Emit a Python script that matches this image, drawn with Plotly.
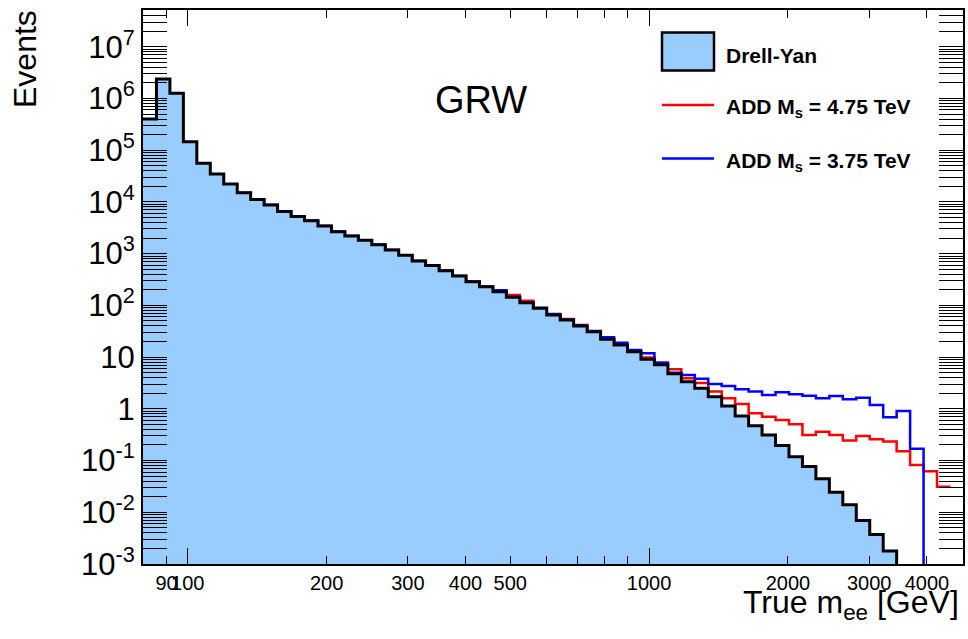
import numpy as np
import plotly.graph_objects as go

# ---------------- data ----------------
XMIN, XMAX, NBINS = 80.0, 4500.0, 60          # histogram binning (log-spaced bins)
X_RANGE = [np.log10(80.0), np.log10(4790.0)]  # visible axis range (log10)
Y_RANGE = [-3.0, 7.71]

drell_yan = [
    4.0e5, 2.38e6, 1.26e6, 1.46e5, 5.57e4, 3.46e4, 2.22e4, 1.51e4, 1.11e4, 8.71e3,
    6.53e3, 5.25e3, 4.32e3, 3.42e3, 2.65e3, 2.19e3, 1.81e3, 1.49e3, 1.17e3, 933,
    724, 589, 468, 369, 286, 229, 184, 143, 112, 87.7,
    65.0, 52.1, 39.9, 31.0, 22.1, 17.1, 12.7, 9.06, 7.08, 4.79,
    3.35, 2.51, 1.72, 1.13, 0.726, 0.472, 0.311, 0.196, 0.119, 0.0764,
    0.0444, 0.0244, 0.0139, 0.00692, 0.00372, 0.00178, 0, 0, 0, 0,
]

add_ms_475 = [
    0, 0, 0, 0, 0, 0, 0, 1.51e4, 1.11e4, 8.71e3,
    6.53e3, 5.25e3, 4.32e3, 3.42e3, 2.65e3, 2.19e3, 1.81e3, 1.49e3, 1.17e3, 933,
    724, 589, 468, 369, 286, 229, 195, 158, 123, 89,
    66, 54.5, 41.7, 31.3, 22.4, 17.4, 13.2, 9.77, 7.76, 5.79,
    3.88, 3.16, 2.15, 1.60, 1.24, 0.818, 0.705, 0.608, 0.501, 0.311,
    0.361, 0.311, 0.245, 0.298, 0.257, 0.234, 0.152, 0.0822, 0.0621, 0.0313,
]

add_ms_375 = [
    0, 0, 0, 0, 0, 0, 0, 0, 0, 8.71e3,
    6.53e3, 5.25e3, 4.32e3, 3.42e3, 2.65e3, 2.19e3, 1.81e3, 1.49e3, 1.17e3, 933,
    724, 589, 468, 369, 286, 229, 195, 145, 114, 89,
    68.1, 52.5, 40.7, 31.9, 24.1, 19.0, 13.7, 11.8, 7.76, 5.0,
    4.51, 3.80, 3.02, 2.76, 2.38, 2.15, 1.85, 2.08, 1.91, 1.79,
    1.60, 1.77, 1.53, 1.64, 1.19, 0.686, 0.906, 0.169, 0, 0,
]

x_tick_vals = [90, 100, 200, 300, 400, 500, 1000, 2000, 3000, 4000]
x_tick_text = ["90", "100", "200", "300", "400", "500", "1000", "2000", "3000", "4000"]
x_minor_vals = [600, 700, 800, 900]
x_long_vals = [100, 1000]

y_tick_vals = [1e-3, 1e-2, 1e-1, 1, 10, 1e2, 1e3, 1e4, 1e5, 1e6, 1e7]
y_tick_text = ["10<sup>-3</sup>", "10<sup>-2</sup>", "10<sup>-1</sup>", "1", "10",
               "10<sup>2</sup>", "10<sup>3</sup>", "10<sup>4</sup>", "10<sup>5</sup>",
               "10<sup>6</sup>", "10<sup>7</sup>"]

labels = ["Drell-Yan", "ADD M<sub>s</sub> = 4.75 TeV", "ADD M<sub>s</sub> = 3.75 TeV"]

# ---------------- helpers ----------------
edges = np.logspace(np.log10(XMIN), np.log10(XMAX), NBINS + 1)
FLOOR = 10 ** Y_RANGE[0] / 10.0  # empty bins drawn below the visible range


def clamp(vals):
    return [v if v > 0 else FLOOR for v in vals]


def step_line(vals):
    v = clamp(vals)
    return list(edges), v + [v[-1]]


def step_poly(vals):
    v = clamp(vals)
    xs, ys = [edges[0]], [FLOOR]
    for i, val in enumerate(v):
        xs += [edges[i], edges[i + 1]]
        ys += [val, val]
    xs.append(edges[-1])
    ys.append(FLOOR)
    return xs, ys


FONT = "Liberation Sans, Arial, Helvetica, sans-serif"
FILL = "#99ccff"

fig = go.Figure()

# ADD signal lines (drawn underneath the Drell-Yan histogram)
for vals, col, name in [(add_ms_475, "#ff0000", labels[1]), (add_ms_375, "#0000ff", labels[2])]:
    x, y = step_line(vals)
    fig.add_trace(go.Scatter(x=x, y=y, mode="lines", line=dict(color=col, width=2.5, shape="hv"),
                             name=name, hoverinfo="skip", xaxis="x", yaxis="y"))

# Drell-Yan filled histogram (overlay subplot, drawn on top)
px, py = step_poly(drell_yan)
fig.add_trace(go.Scatter(x=px, y=py, mode="lines", fill="toself", fillcolor=FILL,
                         line=dict(width=0, color=FILL), hoverinfo="skip",
                         xaxis="x2", yaxis="y"))
lx, ly = step_line(drell_yan)
fig.add_trace(go.Scatter(x=lx, y=ly, mode="lines", line=dict(color="black", width=3, shape="hv"),
                         name=labels[0], hoverinfo="skip", xaxis="x2", yaxis="y"))

L, R, T, B = 143, 5, 10, 75
W, H = 968, 639
pw, ph = W - L - R, H - T - B


def px2x(p):
    return (p - L) / pw


def px2y(p):
    return (H - B - p) / ph


fig.update_layout(
    width=W, height=H,
    margin=dict(l=L, r=R, t=T, b=B, autoexpand=False),
    paper_bgcolor="white", plot_bgcolor="white",
    showlegend=False,
    font=dict(family=FONT, color="black"),
    xaxis=dict(
        type="log", range=X_RANGE, showgrid=False, zeroline=False, automargin=False,
        showline=True, linecolor="black", linewidth=2, mirror="allticks",
        ticks="inside", ticklen=8, tickwidth=1.2, tickcolor="black",
        tickmode="array", tickvals=x_tick_vals, ticktext=x_tick_text, tickangle=0,
        tickfont=dict(size=20, family=FONT),
        minor=dict(tickmode="array", tickvals=x_minor_vals, ticks="inside",
                   ticklen=8, tickwidth=1.2, tickcolor="black", showgrid=False),
    ),
    xaxis2=dict(
        type="log", range=X_RANGE, overlaying="x", anchor="y", side="bottom", automargin=False,
        showgrid=False, zeroline=False, showline=False, showticklabels=False,
        ticks="inside", ticklen=16, tickwidth=1.2, tickcolor="black", mirror="ticks",
        tickmode="array", tickvals=x_long_vals,
    ),
    yaxis=dict(
        type="log", range=Y_RANGE, showgrid=False, zeroline=False, automargin=False,
        showline=True, linecolor="black", linewidth=2, mirror="allticks",
        ticks="inside", ticklen=24, tickwidth=1.2, tickcolor="black",
        tickmode="array", tickvals=y_tick_vals, ticktext=y_tick_text,
        tickfont=dict(size=31, family=FONT),
        minor=dict(tickmode="array",
                   tickvals=[d * 10.0 ** k for k in range(-3, 8) for d in range(2, 10)
                             if np.log10(d * 10.0 ** k) < Y_RANGE[1]],
                   ticks="inside", ticklen=12, tickwidth=1.2, tickcolor="black", showgrid=False),
    ),
)

ann = []
ann.append(dict(text="Events", textangle=-90, x=px2x(25), y=px2y(8), xref="paper", yref="paper",
                xanchor="center", yanchor="top", showarrow=False, font=dict(size=32, family=FONT)))
ann.append(dict(text="True m<sub>ee</sub> [GeV]", x=px2x(961), y=px2y(604), xref="paper", yref="paper",
                xanchor="right", yanchor="middle", showarrow=False, font=dict(size=32, family=FONT)))
ann.append(dict(text="GRW", x=px2x(481), y=px2y(100), xref="paper", yref="paper",
                xanchor="center", yanchor="middle", showarrow=False, font=dict(size=38, family=FONT)))

# legend (drawn manually, ROOT TLegend style)
shapes = [
    dict(type="rect", xref="paper", yref="paper", x0=px2x(662), x1=px2x(714), y0=px2y(70.5), y1=px2y(32.5),
         fillcolor=FILL, line=dict(color="black", width=2.5)),
    dict(type="line", xref="paper", yref="paper", x0=px2x(662), x1=px2x(714), y0=px2y(105), y1=px2y(105),
         line=dict(color="#ff0000", width=2.5)),
    dict(type="line", xref="paper", yref="paper", x0=px2x(662), x1=px2x(714), y0=px2y(158.5), y1=px2y(158.5),
         line=dict(color="#0000ff", width=2.5)),
]
for lab, yc in zip(labels, [55, 108, 162]):
    ann.append(dict(text="<b>" + lab + "</b>", x=px2x(724), y=px2y(yc), xref="paper", yref="paper",
                    xanchor="left", yanchor="middle", showarrow=False, font=dict(size=21, family=FONT)))

fig.update_layout(annotations=ann, shapes=shapes)
fig.write_html(
    "out.html",
    config={"displayModeBar": False},
    post_script="document.body.style.margin='0px';document.body.style.overflow='hidden';",
)
